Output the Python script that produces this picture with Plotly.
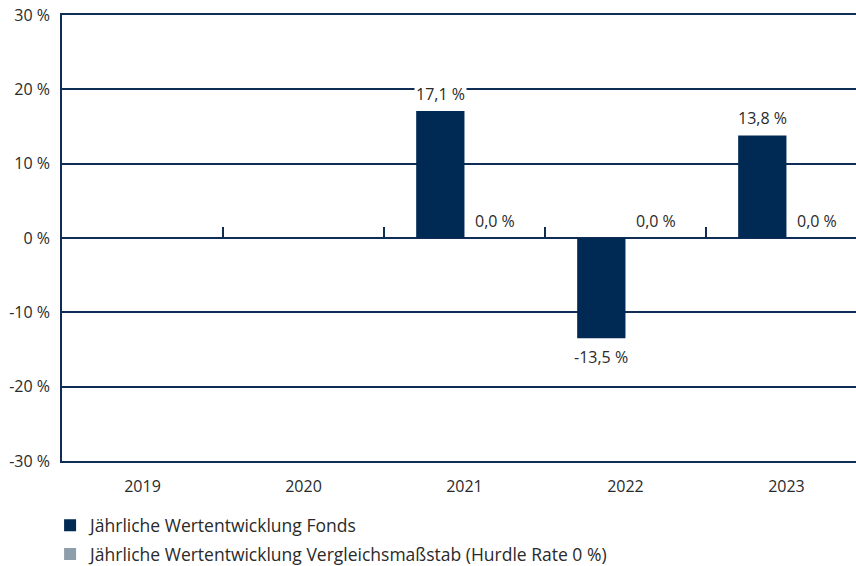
import plotly.graph_objects as go

years = ["2019", "2020", "2021", "2022", "2023"]
fund = [None, None, 17.1, -13.5, 13.8]
bench = [None, None, 0.0, 0.0, 0.0]
fund_labels = [None, None, "17,1 %", "-13,5 %", "13,8 %"]
bench_labels = [None, None, "0,0 %", "0,0 %", "0,0 %"]
y_tickvals = [30, 20, 10, 0, -10, -20, -30]
y_ticktext = ["30 %", "20 %", "10 %", "0 %", "-10 %", "-20 %", "-30 %"]
boundary_ticks = [-0.5, 0.5, 1.5, 2.5, 3.5]

NAVY = "#002a54"
GREY = "#8e9eab"
LINE = "#0f2d55"
TEXT = "#2a2a2a"
FONT = "Open Sans"
FS = 16

fig = go.Figure()
fig.add_trace(go.Bar(x=years, y=fund, name="Jährliche Wertentwicklung Fonds",
                     marker=dict(color=NAVY, line=dict(width=0)),
                     legendgroup="a", hoverinfo="skip"))
fig.add_trace(go.Bar(x=years, y=bench,
                     name="Jährliche Wertentwicklung Vergleichsmaßstab (Hurdle Rate 0 %)",
                     marker=dict(color=GREY, line=dict(width=0)),
                     legendgroup="b", hoverinfo="skip"))
fig.add_trace(go.Scatter(x=[None], y=[None], xaxis="x2", showlegend=False,
                         hoverinfo="skip", mode="markers"))

anns = []
for i, y in enumerate(years):
    v = fund[i]
    if v is not None:
        pos = v >= 0
        a = dict(x=i - 0.15, y=v, xref="x", yref="y", text=fund_labels[i],
                 showarrow=False,
                 yanchor="bottom" if pos else "top",
                 yshift=4 if pos else -6, borderpad=1,
                 font=dict(family=FONT, size=FS, color=TEXT))
        if pos:
            a["bgcolor"] = "white"
        anns.append(a)
    b = bench[i]
    if b is not None:
        anns.append(dict(x=i + 0.19, y=b, xref="x", yref="y", text=bench_labels[i],
                         showarrow=False, yanchor="bottom", yshift=4,
                         font=dict(family=FONT, size=FS, color=TEXT)))

fig.update_layout(
    width=856, height=566,
    margin=dict(l=62, r=0, t=15, b=105, autoexpand=False),
    paper_bgcolor="white", plot_bgcolor="white",
    barmode="group", bargap=0.4, bargroupgap=0,
    font=dict(family=FONT, size=FS, color=TEXT),
    annotations=anns,
    legend=dict(orientation="v", x=-0.015, xanchor="left", y=-0.104, yanchor="top",
                traceorder="grouped", tracegroupgap=3,
                font=dict(family=FONT, size=17.5, color=TEXT)),
    xaxis=dict(type="category", categoryorder="array", categoryarray=years,
               range=[-0.5, 4.432], showgrid=False, ticks="",
               showline=True, mirror=True, linecolor=LINE, linewidth=1.5,
               ticklabelstandoff=10, tickfont=dict(family=FONT, size=FS, color=TEXT),
               fixedrange=True),
    xaxis2=dict(overlaying="x", anchor="free", position=0.5, type="linear",
                range=[-0.5, 4.432], tickmode="array", tickvals=boundary_ticks,
                ticks="inside", ticklen=11, tickwidth=1.5, tickcolor=LINE,
                showticklabels=False, showgrid=False, showline=False, zeroline=False),
    yaxis=dict(range=[-30, 30], tickmode="array", tickvals=y_tickvals, ticktext=y_ticktext,
               showgrid=True, gridcolor=LINE, gridwidth=1.5,
               zeroline=True, zerolinecolor=LINE, zerolinewidth=1.5,
               showline=True, linecolor=LINE, linewidth=1.5, ticks="",
               ticklabelstandoff=7, tickfont=dict(family=FONT, size=FS, color=TEXT)),
)

fig.write_html("out.html")
